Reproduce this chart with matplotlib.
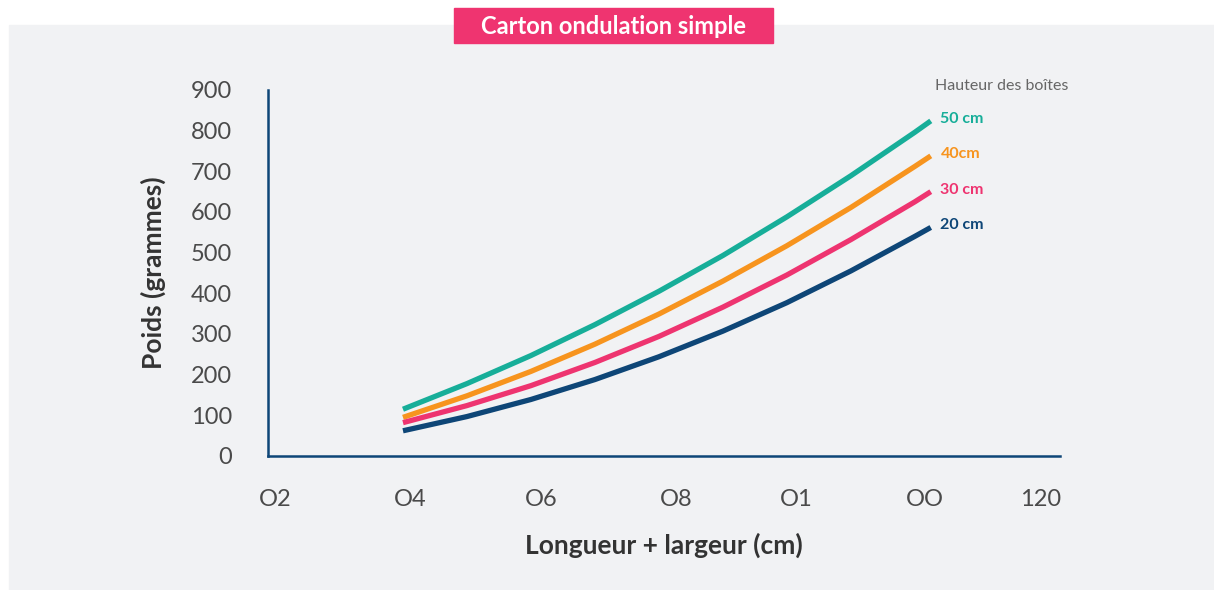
import numpy as np
import matplotlib
matplotlib.use('Agg')
import matplotlib.pyplot as plt
from matplotlib.patches import Rectangle

# data
x_cm = [40, 50, 60, 70, 80, 90, 100, 110, 120, 122.5]
h50 = [115, 178, 247, 323, 405, 493, 588, 689, 796, 824]
h40 = [95, 148, 208, 275, 349, 430, 517, 611, 712, 738]
h30 = [82, 124, 173, 230, 294, 366, 445, 532, 625, 650]
h20 = [62, 97, 139, 188, 244, 307, 377, 455, 540, 562]

series_labels = ['50 cm', '40cm', '30 cm', '20 cm']
series_colors = ['#17ae99', '#f7941e', '#ee3470', '#0e4677']

# tick spots as they sit in the original (not evenly spaced)
x_ticks = [20, 41.2, 61.6, 82.7, 101.4, 121.6, 139.7]
x_tick_labels = ['O2', 'O4', 'O6', 'O8', 'O1', 'OO', '120']
y_ticks = [0, 100, 200, 300, 400, 500, 600, 700, 800, 900]

plt.rcParams['font.family'] = ['Lato', 'DejaVu Sans']

W, H = 1214, 590
fig = plt.figure(figsize=(W / 100, H / 100), dpi=100)
fig.patch.set_facecolor('white')

# grey panel behind the chart
fig.patches.append(Rectangle((9 / W, 0), 1 - 9 / W, 1 - 25 / H,
                             transform=fig.transFigure, color='#f1f2f4', zorder=-2))
# pink title box
fig.patches.append(Rectangle((454 / W, 1 - 43 / H), 319 / W, 35 / H,
                             transform=fig.transFigure, color='#ef3470', zorder=-1))
fig.text(613.5 / W, 1 - 26.5 / H, 'Carton ondulation simple', color='white',
         fontsize=17, fontweight='bold', ha='center', va='center')

ax = fig.add_axes([268 / W, 1 - 456 / H, (1060 - 268) / W, (456 - 90) / H])
ax.set_facecolor('none')

navy = '#0e4677'
for s in ['top', 'right']:
    ax.spines[s].set_visible(False)
for s in ['left', 'bottom']:
    ax.spines[s].set_color(navy)
    ax.spines[s].set_linewidth(1.8)

all_series = [h50, h40, h30, h20]
for ys, lab, col in zip(all_series, series_labels, series_colors):
    ax.plot(x_cm, ys, color=col, lw=3.8, solid_capstyle='butt', solid_joinstyle='round')
    ax.annotate(lab, (x_cm[-1], ys[-1]), xytext=(7, 1.5), textcoords='offset points',
                color=col, fontsize=11.5, fontweight='bold', va='center', ha='left')

ax.set_xlim(18.9, 142.7)
ax.set_ylim(0, 900)
ax.set_xticks(x_ticks)
ax.set_xticklabels(x_tick_labels)
ax.set_yticks(y_ticks)
ax.tick_params(length=0, labelsize=17, labelcolor='#4a4a4a')
ax.tick_params(axis='y', pad=26)
ax.tick_params(axis='x', pad=24)

ax.set_ylabel('Poids (grammes)', fontsize=19, fontweight='bold', color='#333333', labelpad=18)
ax.set_xlabel('Longueur + largeur (cm)', fontsize=19, fontweight='bold', color='#333333', labelpad=16)

fig.text(1068 / W, 1 - 86 / H, 'Hauteur des boîtes', color='#666666', fontsize=11.5,
         ha='right', va='center')

fig.savefig('out.png', dpi=100)
